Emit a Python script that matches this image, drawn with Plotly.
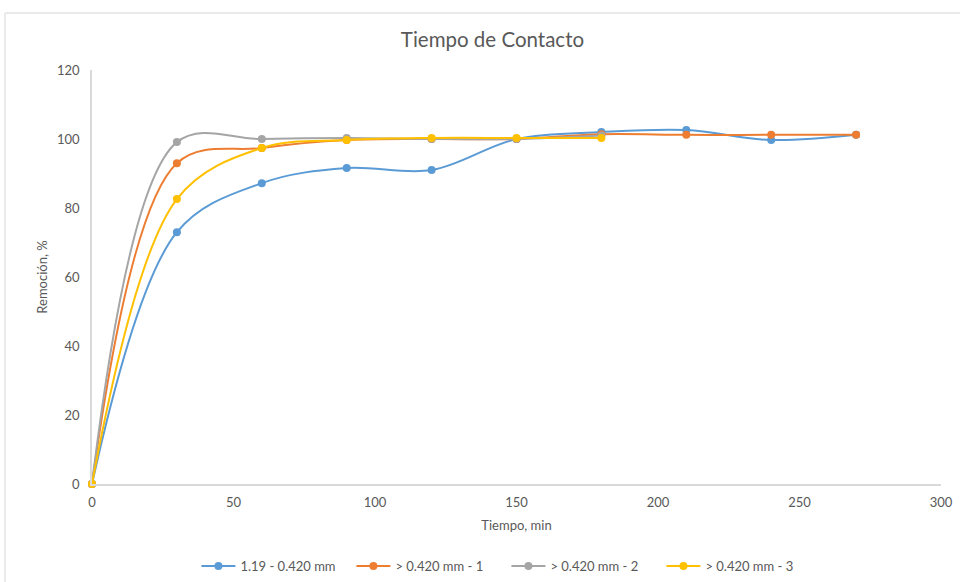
import plotly.graph_objects as go

tiempo = [0, 30, 60, 90, 120, 150, 180, 210, 240, 270]
tiempo_gris = [0, 30, 60, 90, 120, 150, 180]
tiempo_amarillo = [0, 30, 60, 90, 120, 150, 180]

serie_1 = [0, 73.0, 87.2, 91.6, 91.0, 100.0, 102.0, 102.6, 99.7, 101.2]
serie_2 = [0, 93.0, 97.4, 99.7, 100.0, 100.0, 101.4, 101.2, 101.2, 101.2]
serie_3 = [0, 99.1, 100.0, 100.3, 100.0, 100.0, 101.0]
serie_4 = [0, 82.6, 97.4, 99.7, 100.3, 100.3, 100.3]

nombres = ["1.19 - 0.420 mm", "> 0.420 mm - 1", "> 0.420 mm - 2", "> 0.420 mm - 3"]
colores = ["#5B9BD5", "#ED7D31", "#A5A5A5", "#FFC000"]

fig = go.Figure()
for xs, ys, n, c in [
    (tiempo, serie_1, nombres[0], colores[0]),
    (tiempo, serie_2, nombres[1], colores[1]),
    (tiempo_gris, serie_3, nombres[2], colores[2]),
    (tiempo_amarillo, serie_4, nombres[3], colores[3]),
]:
    fig.add_trace(go.Scatter(
        x=xs, y=ys, name=n, mode="lines+markers",
        line=dict(color=c, width=2, shape="spline", smoothing=1.0),
        marker=dict(color=c, size=8),
        cliponaxis=False,
    ))

font_family = "Lato, 'Open Sans', sans-serif"
fig.update_layout(
    width=960, height=582,
    paper_bgcolor="white", plot_bgcolor="white",
    margin=dict(l=92, r=19, t=70, b=98, autoexpand=False),
    title=dict(text="Tiempo de Contacto", x=0.513, xanchor="center", y=0.932, yanchor="middle",
               font=dict(family=font_family, size=20.5, color="#595959")),
    font=dict(family=font_family, size=13, color="#595959"),
    showlegend=True,
    legend=dict(orientation="h", x=0.123, xanchor="left", y=-0.198, yanchor="middle",
                font=dict(size=13, color="#595959"), itemwidth=34, tracegroupgap=0,
                entrywidth=106, entrywidthmode="pixels"),
    xaxis=dict(range=[0, 300], dtick=50, showgrid=False, zeroline=False,
               showline=True, linecolor="#D9D9D9", linewidth=1.5, ticks="",
               ticklabelstandoff=6,
               title=dict(text="Tiempo, min", font=dict(size=13, color="#595959"), standoff=12),
               tickfont=dict(size=13, color="#595959")),
    yaxis=dict(range=[0, 120], dtick=20, showgrid=False, zeroline=False,
               showline=True, linecolor="#D9D9D9", linewidth=1.5, ticks="",
               ticklabelstandoff=8,
               title=dict(text="Remoción, %", font=dict(size=13, color="#595959"), standoff=6),
               tickfont=dict(size=13, color="#595959")),
    shapes=[
        dict(type="line", xref="paper", yref="paper", x0=(5 - 92) / 849, x1=(960 - 92) / 849,
             y0=(484 - 13) / 414, y1=(484 - 13) / 414, line=dict(color="#E3E3E3", width=1.5)),
        dict(type="line", xref="paper", yref="paper", x0=(5 - 92) / 849, x1=(5 - 92) / 849,
             y0=(484 - 13) / 414, y1=(484 - 582) / 414, line=dict(color="#E3E3E3", width=1.5)),
    ],
)
fig.write_html("out.html", config={"displayModeBar": False},
               post_script="document.body.style.margin='0';")
